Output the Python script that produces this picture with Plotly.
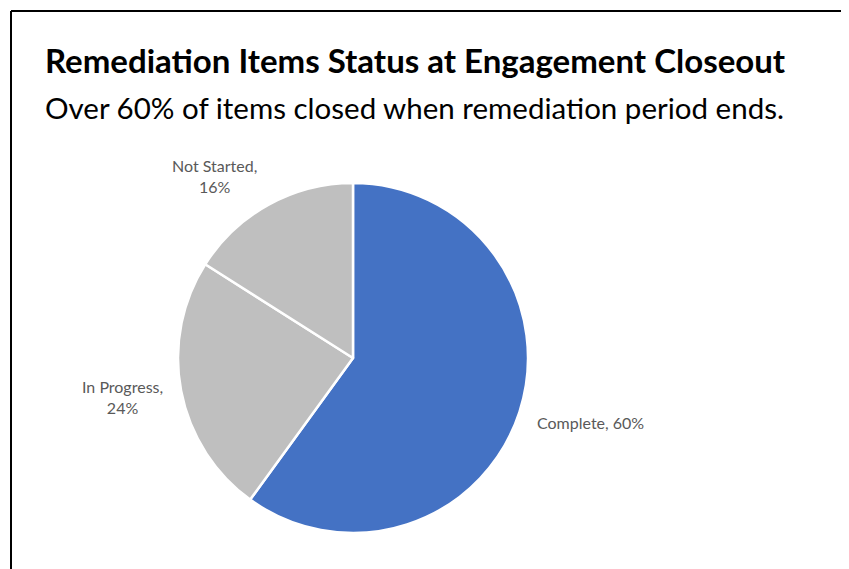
import plotly.graph_objects as go

categories = ["Complete", "In Progress", "Not Started"]
values = [60, 24, 16]
colors = ["#4472C4", "#BFBFBF", "#BFBFBF"]

title = "Remediation Items Status at Engagement Closeout"
subtitle = "Over 60% of items closed when remediation period ends."

# page body has an 8px margin: work in screen pixels and convert
OFF = 8
W, H = 849 - OFF, 569 - OFF
def px(x): return (x - OFF) / W
def py(y): return 1 - (y - OFF) / H

FONT = "Lato, Open Sans, sans-serif"

fig = go.Figure(go.Pie(
    labels=categories, values=values, sort=False, direction="clockwise",
    rotation=0, marker=dict(colors=colors, line=dict(color="white", width=2.5)),
    textinfo="none", hoverinfo="label+percent", showlegend=False,
    domain=dict(x=[px(178), px(528)], y=[py(533), py(183)]),
))

label_pos = {
    "Complete": (535, 422, "left", False),
    "In Progress": (122, 397, "center", True),
    "Not Started": (214, 176, "center", True),
}
annotations = []
for cat, val in zip(categories, values):
    x, y, align, two = label_pos[cat]
    txt = f"{cat},<br>{val}%" if two else f"{cat}, {val}%"
    annotations.append(dict(
        x=px(x), y=py(y), xref="paper", yref="paper", text=txt, showarrow=False,
        xanchor=align, yanchor="middle", align="center",
        font=dict(family=FONT, size=16, color="#595959"),
    ))

annotations.append(dict(
    x=px(43), y=py(60), xref="paper", yref="paper", text=f"<b>{title}</b>",
    showarrow=False, xanchor="left", yanchor="middle",
    font=dict(family=FONT, size=33, color="#000000"),
))
annotations.append(dict(
    x=px(43), y=py(107), xref="paper", yref="paper", text=subtitle,
    showarrow=False, xanchor="left", yanchor="middle",
    font=dict(family=FONT, size=29.5, color="#000000"),
))

shapes = [
    dict(type="line", xref="paper", yref="paper", x0=px(11), y0=0, x1=px(11), y1=py(11),
         line=dict(color="black", width=2)),
    dict(type="line", xref="paper", yref="paper", x0=px(11), y0=py(11), x1=1, y1=py(11),
         line=dict(color="black", width=2)),
]

fig.update_layout(
    width=W, height=H, margin=dict(l=0, r=0, t=0, b=0),
    paper_bgcolor="white", plot_bgcolor="white",
    annotations=annotations, shapes=shapes,
)
fig.write_html("out.html")
